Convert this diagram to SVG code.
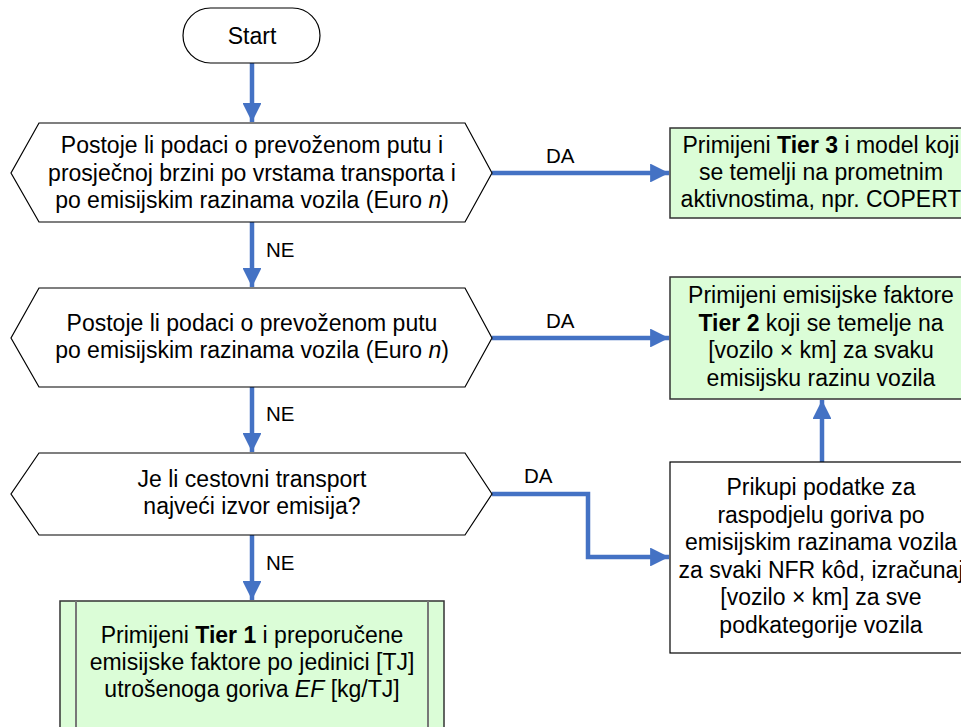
<svg xmlns="http://www.w3.org/2000/svg" width="961" height="727" viewBox="0 0 961 727">
<defs>
<style>
text{font-family:"Liberation Sans",Arial,sans-serif;font-size:23px;fill:#000;text-anchor:middle}
.lbl{font-size:20.5px;text-anchor:start}
.shape{fill:#fff;stroke:#000;stroke-width:1.2}
.green{fill:#dbfdd7;stroke:#333;stroke-width:1.5}
.inner{stroke:#777;stroke-width:2;fill:none}
.conn{fill:none;stroke:#4472c4;stroke-width:4.5}
.b{font-weight:bold}
.i{font-style:italic}
</style>
<marker id="ah" viewBox="0 0 10 10" refX="10" refY="5" markerWidth="4.2" markerHeight="4.2" markerUnits="strokeWidth" orient="auto">
<path d="M0,0 L10,5 L0,10 z" fill="#4472c4"/>
</marker>
</defs>
<rect width="961" height="727" fill="#fff"/>
<g id="connectors">
<path class="conn" d="M252,63 V122" marker-end="url(#ah)"/>
<path class="conn" d="M252,222 V287" marker-end="url(#ah)"/>
<path class="conn" d="M252,387 V452" marker-end="url(#ah)"/>
<path class="conn" d="M252,535 V600" marker-end="url(#ah)"/>
<path class="conn" d="M492,173 H669" marker-end="url(#ah)"/>
<path class="conn" d="M492,338 H669" marker-end="url(#ah)"/>
<path class="conn" d="M492,494 H588 V557 H669" marker-end="url(#ah)"/>
<path class="conn" d="M822,462 V400" marker-end="url(#ah)"/>
<text class="lbl" x="546" y="163">DA</text>
<text class="lbl" x="546" y="328">DA</text>
<text class="lbl" x="524" y="483">DA</text>
<text class="lbl" x="266" y="257">NE</text>
<text class="lbl" x="266" y="421">NE</text>
<text class="lbl" x="266" y="570">NE</text>
</g>
<g id="start">
<rect class="shape" x="183" y="8" width="137" height="55" rx="27.5"/>
<text x="252" y="44">Start</text>
</g>
<g id="q1">
<polygon class="shape" points="39,123 465,123 492,173 465,222 39,222 11,173"/>
<text x="252" y="153">Postoje li podaci o prevoženom putu i</text>
<text x="252" y="181">prosječnoj brzini po vrstama transporta i</text>
<text x="252" y="208">po emisijskim razinama vozila (Euro <tspan class="i">n</tspan>)</text>
</g>
<g id="q2">
<polygon class="shape" points="39,288 465,288 492,338 465,387 39,387 11,338"/>
<text x="252" y="331">Postoje li podaci o prevoženom putu</text>
<text x="252" y="358">po emisijskim razinama vozila (Euro <tspan class="i">n</tspan>)</text>
</g>
<g id="q3">
<polygon class="shape" points="39,453 465,453 492,494 465,535 39,535 11,494"/>
<text x="252" y="487">Je li cestovni transport</text>
<text x="252" y="514">najveći izvor emisija?</text>
</g>
<g id="tier3">
<rect class="green" x="670" y="128" width="302" height="90"/>
<text x="821" y="153">Primijeni <tspan class="b">Tier 3</tspan> i model koji</text>
<text x="821" y="180">se temelji na prometnim</text>
<text x="821" y="207">aktivnostima, npr. COPERT</text>
</g>
<g id="tier2">
<rect class="green" x="670" y="277" width="302" height="122"/>
<text x="821" y="303">Primijeni emisijske faktore</text>
<text x="821" y="331"><tspan class="b">Tier 2</tspan> koji se temelje na</text>
<text x="821" y="358">[vozilo × km] za svaku</text>
<text x="821" y="386">emisijsku razinu vozila</text>
</g>
<g id="collect">
<rect class="shape" x="670" y="462" width="302" height="191"/>
<text x="821" y="495">Prikupi podatke za</text>
<text x="821" y="523">raspodjelu goriva po</text>
<text x="821" y="550">emisijskim razinama vozila</text>
<text x="821" y="578">za svaki NFR kôd, izračunaj</text>
<text x="821" y="605">[vozilo × km] za sve</text>
<text x="821" y="633">podkategorije vozila</text>
</g>
<g id="tier1">
<rect class="green" x="60" y="601" width="384" height="140"/>
<line class="inner" x1="76" y1="601" x2="76" y2="727"/>
<line class="inner" x1="428" y1="601" x2="428" y2="727"/>
<text x="252" y="643">Primijeni <tspan class="b">Tier 1</tspan> i preporučene</text>
<text x="252" y="670">emisijske faktore po jedinici [TJ]</text>
<text x="252" y="697">utrošenoga goriva <tspan class="i">EF</tspan> [kg/TJ]</text>
</g>
</svg>
